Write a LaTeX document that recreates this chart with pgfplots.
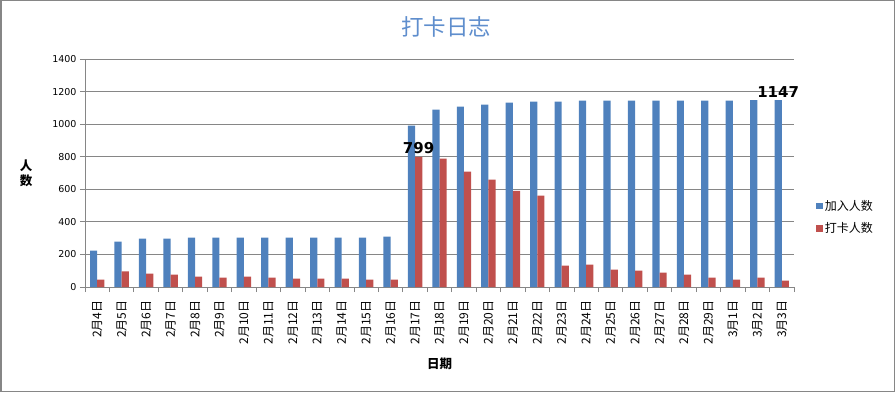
\documentclass[border=0pt]{standalone}
\usepackage{pgfplots}
\pgfplotsset{compat=1.18}
\usepackage{fontspec}
\setmainfont{Noto Sans CJK SC}
\newfontfamily\numfont{DejaVu Sans}
\definecolor{barblue}{RGB}{79,129,189}
\definecolor{barred}{RGB}{192,80,77}
\definecolor{titleblue}{RGB}{95,142,205}
\definecolor{framegray}{RGB}{134,134,134}
\begin{document}
\begin{tikzpicture}[x=1pt,y=1pt]
\useasboundingbox (0,0) rectangle (895,392);
\draw[framegray, line width=1.5pt] (0.75,0.75) rectangle (894.25,391.25);
\node[font=\fontsize{22.5}{26}\selectfont, text=titleblue] at (446,365.5) {打卡日志};
\begin{axis}[
  at={(85pt,105pt)}, anchor=south west,
  scale only axis, width=709pt, height=228pt,
  ybar=0pt, bar width=7.2pt,
  xmin=-0.5, xmax=28.5, ymin=0, ymax=1400,
  ytick={0,200,...,1400},
  xtick={-0.5,0.5,...,28.5},
  xticklabels={},
  extra x ticks={0,...,28},
  extra x tick labels={2月4日,2月5日,2月6日,2月7日,2月8日,2月9日,2月10日,2月11日,2月12日,2月13日,2月14日,2月15日,2月16日,2月17日,2月18日,2月19日,2月20日,2月21日,2月22日,2月23日,2月24日,2月25日,2月26日,2月27日,2月28日,2月29日,3月1日,3月2日,3月3日},
  extra x tick style={major tick length=0pt, grid=none},
  xticklabel style={yshift=-10pt, rotate=90, anchor=east, font=\fontsize{12}{14}\selectfont},
  yticklabel style={font=\numfont\fontsize{9.5}{11}\selectfont},
  /pgf/number format/assume math mode=true,
  /pgf/number format/1000 sep={},
  axis x line*=bottom, axis y line*=left,
  x axis line style={-, framegray, line width=0.8pt},
  y axis line style={-, framegray, line width=0.8pt},
  tick style={framegray, line width=0.8pt},
  ymajorgrids,
  major grid style={framegray, line width=0.8pt},
  tick align=outside,
  major tick length=5pt,
  xlabel={日期},
  xlabel style={font=\bfseries\fontsize{12.5}{14}\selectfont, at={(axis description cs:0.5,-0.3377)}, anchor=center},
  ylabel={人\\数},
  ylabel style={font=\bfseries\fontsize{12.5}{15}\selectfont, rotate=-90, align=center, at={(axis description cs:-0.0832,0.5)}, anchor=center},
  legend style={draw=none, fill=none, at={(axis description cs:1.0268,0.399)}, anchor=north west, font=\fontsize{12}{14}\selectfont, row sep=7pt, legend cell align=left},
  legend image code/.code={\fill[#1] (0pt,-3.3pt) rectangle (6.6pt,3.3pt);},
  nodes near coords,
  point meta=explicit symbolic,
  every node near coord/.append style={font=\numfont\bfseries\fontsize{15}{17}\selectfont, anchor=south, inner sep=1pt, yshift=1.5pt, text=black},
]
\addplot[fill=barblue, draw=none] coordinates {
(0,223) (1,278) (2,297) (3,297) (4,303) (5,303) (6,303) (7,303) (8,303) (9,303) (10,303) (11,303) (12,309)
(13,991) (14,1089) (15,1107) (16,1120) (17,1132) (18,1138) (19,1138) (20,1144) (21,1144) (22,1144) (23,1144) (24,1144) (25,1144)
(26,1144) (27,1147) (28,1147) [1147]
};
\addplot[fill=barred, draw=none] coordinates {
(0,45) (1,96) (2,82) (3,76) (4,63) (5,57) (6,63) (7,57) (8,51) (9,51) (10,51) (11,45) (12,45)
(13,799) [799] (14,788) (15,708) (16,659) (17,591) (18,561) (19,131) (20,137) (21,106) (22,100) (23,88) (24,76) (25,57)
(26,45) (27,57) (28,39)
};
\legend{加入人数,打卡人数}
\end{axis}
\end{tikzpicture}
\end{document}
